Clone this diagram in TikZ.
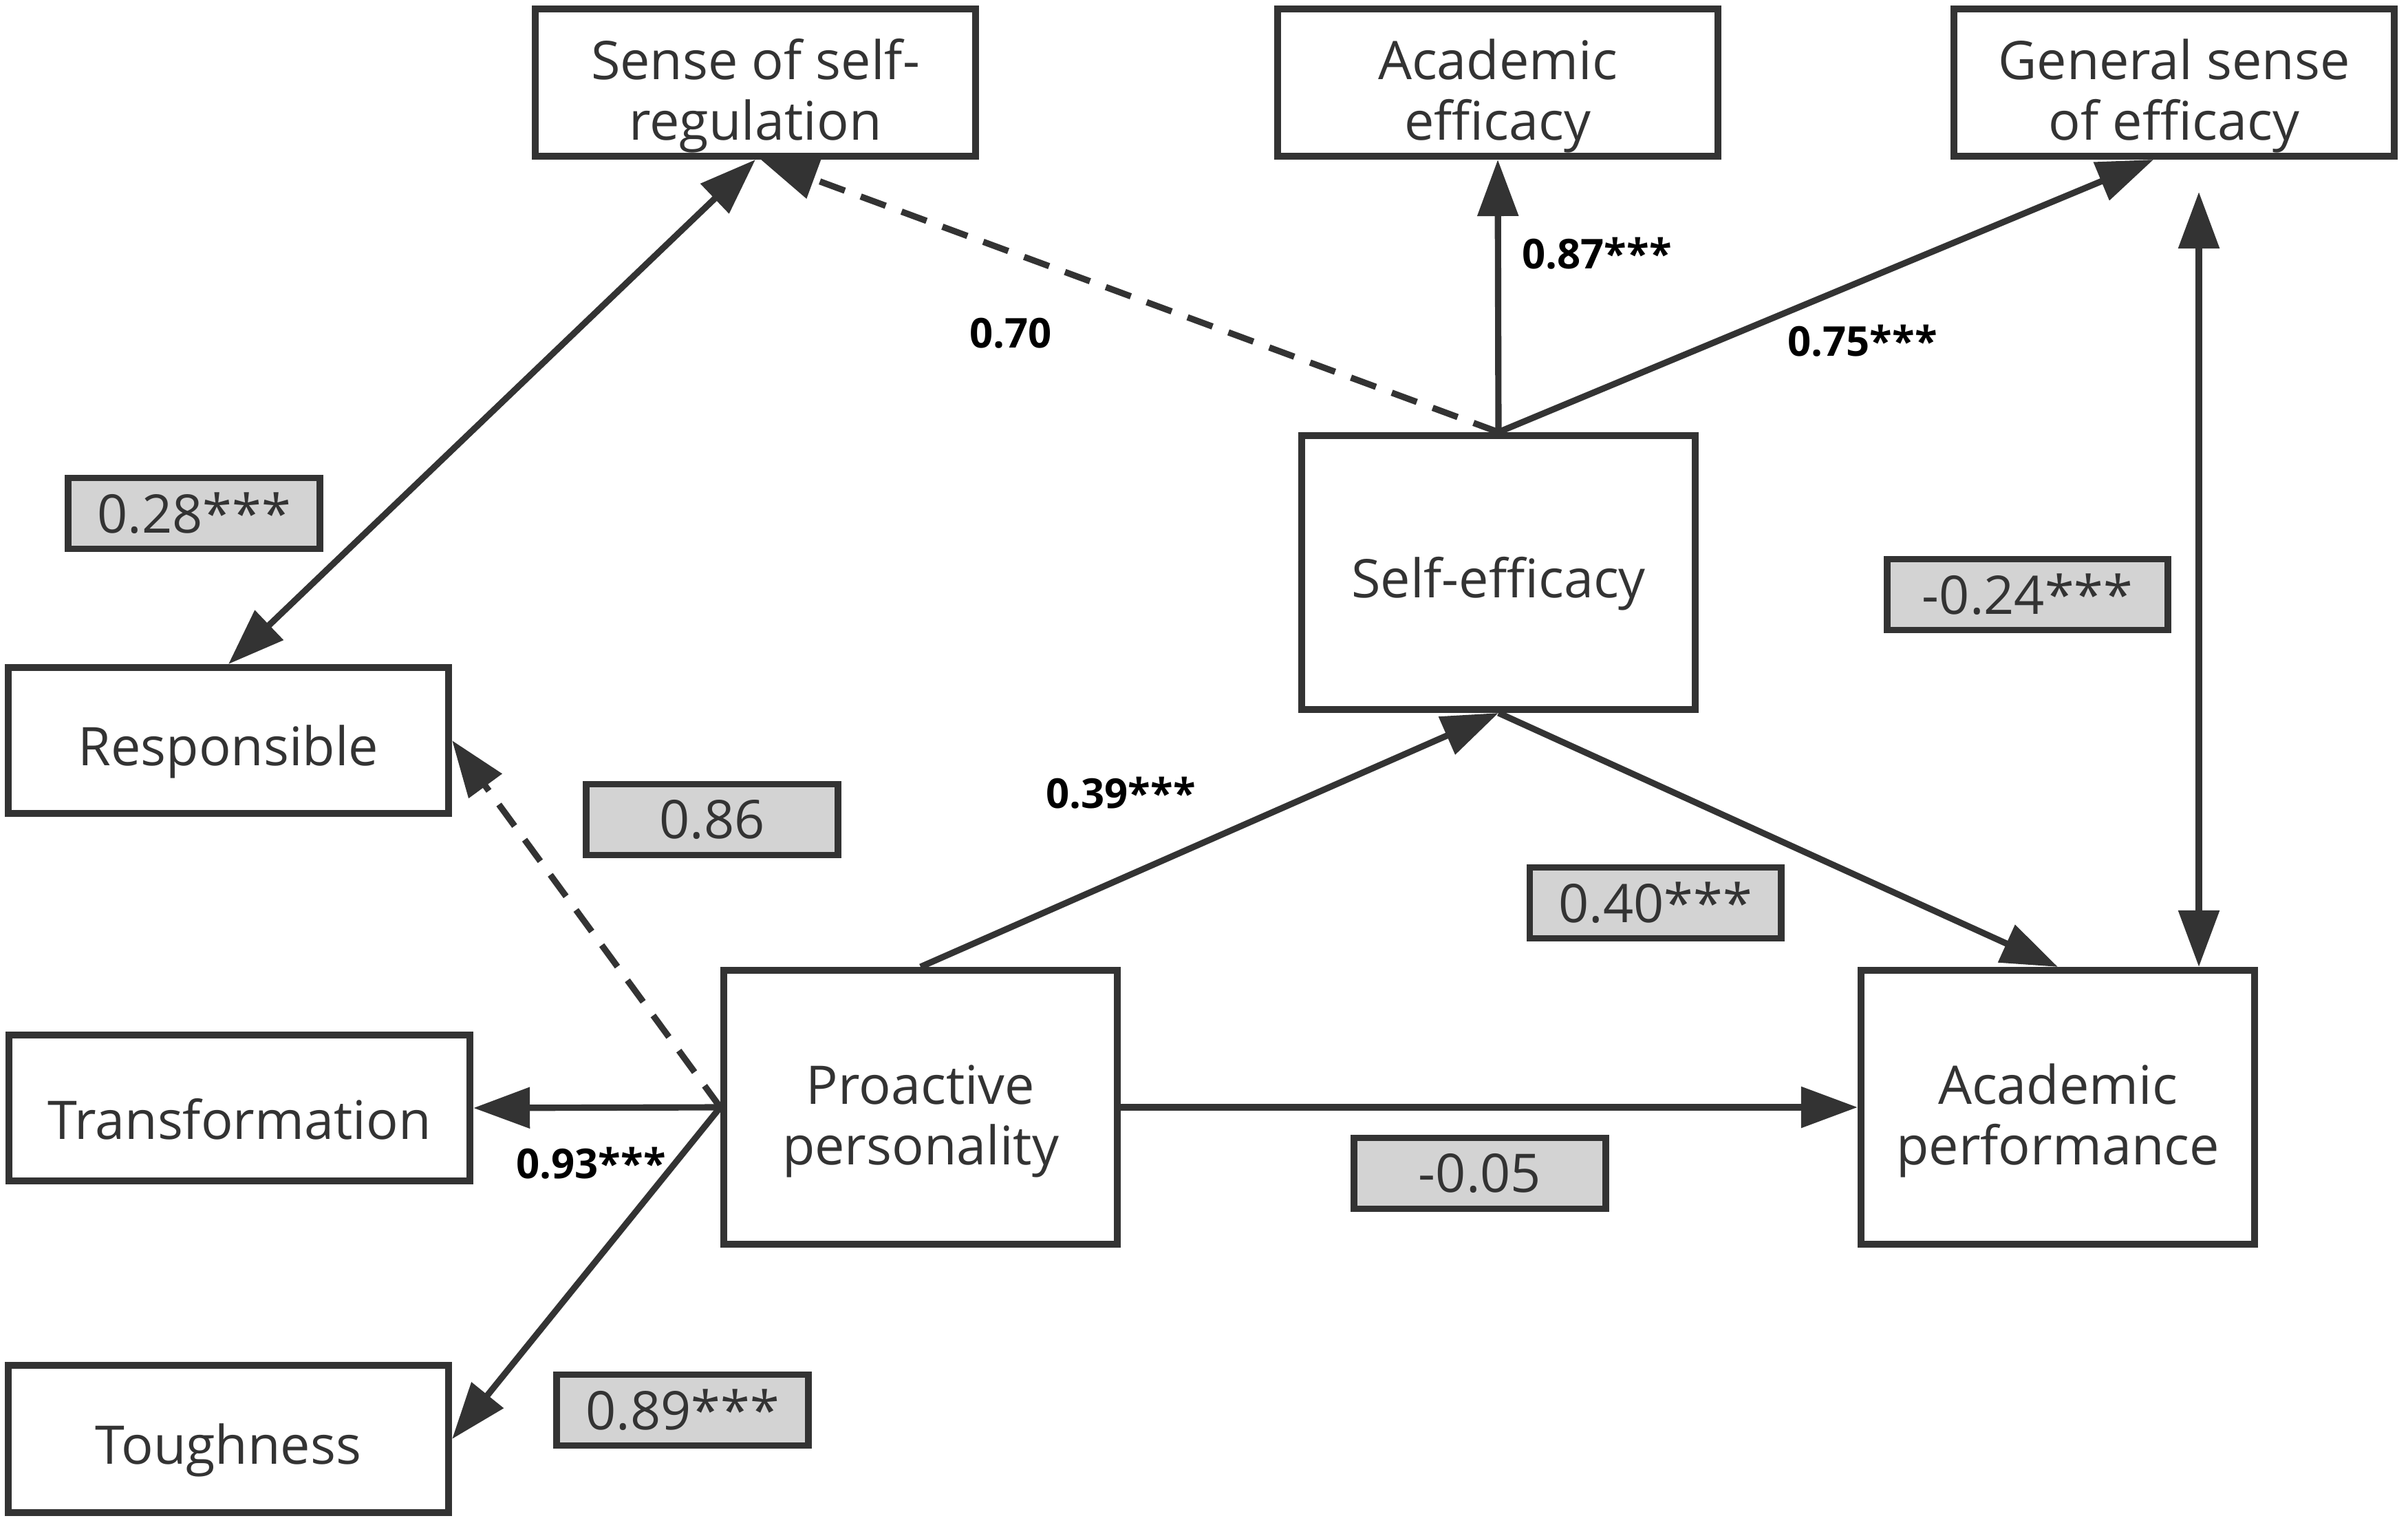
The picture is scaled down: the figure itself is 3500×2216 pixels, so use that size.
\documentclass[tikz,border=0pt]{standalone}
\usepackage{fontspec}
\setmainfont{Open Sans}
\usetikzlibrary{arrows.meta}
\definecolor{ink}{HTML}{333333}
\definecolor{shade}{HTML}{D3D3D3}

\begin{document}
\begin{tikzpicture}[x=0.01cm,y=-0.01cm,>={Triangle[length=0.82cm,width=0.58cm]},
  box/.style={draw=ink,line width=2.8pt,fill=white,text=ink,align=center,inner sep=0pt,
    font=\fontsize{22}{25}\selectfont},
  oneline/.style={box,execute at begin node={\rule{0pt}{26pt}}},
  twoline/.style={box,text height=53pt,text depth=5.5pt},
  coef/.style={draw=ink,line width=2.8pt,fill=shade,text=ink,inner sep=0pt,
    minimum width=3.65cm,minimum height=1.03cm,font=\fontsize{22}{25}\selectfont},
  est/.style={font=\bfseries\fontsize{17}{20}\selectfont},
  link/.style={draw=ink,line width=2.6pt},
  dashlink/.style={draw=ink,line width=2.6pt,dash pattern=on 11pt off 7pt}]
\useasboundingbox (0,0) rectangle (3500,2216);

% indicators
\node[twoline,minimum width=6.4cm,minimum height=2.14cm] at (1098,120) (sreg) {Sense of self-\\regulation};
\node[twoline,minimum width=6.4cm,minimum height=2.14cm] at (2177,120) (aeff) {Academic\\efficacy};
\node[twoline,minimum width=6.4cm,minimum height=2.14cm] at (3160,120) (geff) {General sense\\of efficacy};
\node[oneline,minimum width=6.4cm,minimum height=2.12cm] at (332,1076) (resp) {Responsible};
\node[oneline,minimum width=6.7cm,minimum height=2.12cm] at (348,1610) (trans) {Transformation};
\node[oneline,minimum width=6.4cm,minimum height=2.14cm] at (332,2091) (tough) {Toughness};

% latent variables
\node[oneline,minimum width=5.72cm,minimum height=3.98cm] at (2178,832) (self) {Self-efficacy};
\node[twoline,minimum width=5.72cm,minimum height=3.98cm] at (1338,1609) (pro) {Proactive\\personality};
\node[twoline,minimum width=5.72cm,minimum height=3.98cm] at (2991,1609) (perf) {Academic\\performance};

\coordinate (gtop) at (3196,279);

% paths
\draw[link,<->] (resp.north) -- (sreg.south);
\draw[dashlink,->] (self.north) -- (sreg.-86);
\draw[link,->] (self.north) -- (aeff.south);
\draw[link,->] (self.north) -- (geff.-105);
\draw[link,<->] (gtop) -- (gtop |- perf.north);
\draw[link,->] (pro.north) -- (self.south);
\draw[link,->] (self.south) -- (perf.north);
\draw[link,->] (pro.west) -- (trans.east);
\draw[link,->] (pro.west) -- (tough.east);
\draw[dashlink,->] (pro.west) -- (resp.east);
\draw[link,->] (pro.east) -- (perf.west);

% coefficients
\node[coef] at (282,746) (c28) {0.28***};
\node[coef] at (1035,1191) (c86) {0.86};
\node[coef] at (992,2049) (c89) {0.89***};
\node[coef] at (2406,1312) (c40) {0.40***};
\node[coef] at (2151,1705) (c05) {-0.05};
\node[coef,minimum width=4.07cm] at (2947,864) (c24) {-0.24***};

\node[est] at (1469,484) (e70) {0.70};
\node[est] at (2321,368) (e87) {0.87***};
\node[est] at (2707,495) (e75) {0.75***};
\node[est] at (1629,1152) (e39) {0.39***};
\node[est] at (859,1690) (e93) {0.93***};
\end{tikzpicture}
\end{document}
